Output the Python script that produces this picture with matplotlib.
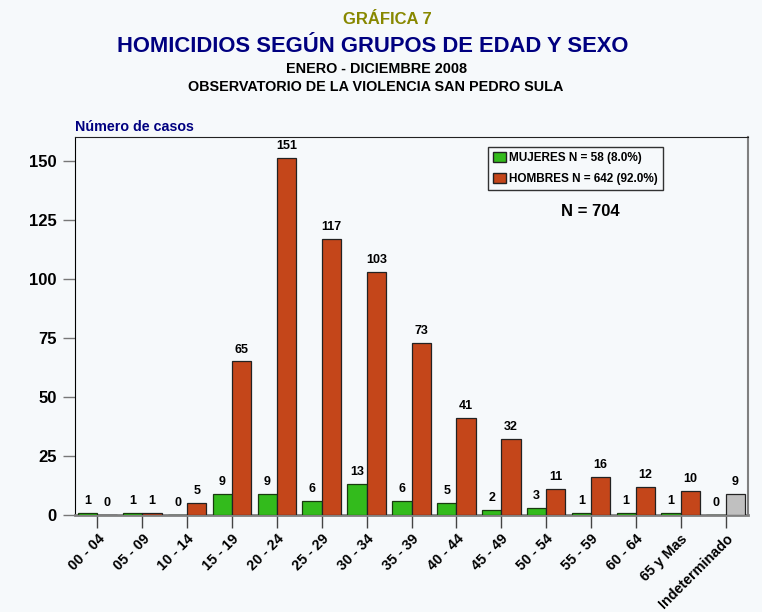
import numpy as np
import matplotlib
matplotlib.use("Agg")
import matplotlib.pyplot as plt
from matplotlib.patches import Patch

plt.rcParams['font.family'] = ['Liberation Sans', 'DejaVu Sans']
plt.rcParams['font.weight'] = 'bold'

# age groups and counts
groups = ['00 - 04', '05 - 09', '10 - 14', '15 - 19', '20 - 24', '25 - 29', '30 - 34',
          '35 - 39', '40 - 44', '45 - 49', '50 - 54', '55 - 59', '60 - 64', '65 y Mas',
          'Indeterminado']
mujeres = [1, 1, 0, 9, 9, 6, 13, 6, 5, 2, 3, 1, 1, 1, 0]
hombres = [0, 1, 5, 65, 151, 117, 103, 73, 41, 32, 11, 16, 12, 10, 9]

GREEN = '#33bb1c'
RED = '#c4461a'
GREY = '#c0c0c0'
BG = '#f6f9fb'

fig = plt.figure(figsize=(7.62, 6.12), dpi=100, facecolor=BG)
ax = fig.add_axes([75 / 762, 1 - 515 / 612, (748 - 75) / 762, (515 - 137) / 612])
ax.set_facecolor(BG)

x = np.arange(len(groups))
w = 0.43
red_colors = [RED] * (len(groups) - 1) + [GREY]
ax.bar(x - w / 2, mujeres, width=w, color=GREEN, edgecolor='#1a3a10', linewidth=0.9, zorder=3)
ax.bar(x + w / 2, hombres, width=w, color=red_colors, edgecolor='#222222', linewidth=0.9, zorder=3)

for xi, v in zip(x, mujeres):
    ax.text(xi - w / 2, v + 2.5, str(v), ha='center', va='bottom', fontsize=9, weight='bold')
for xi, v in zip(x, hombres):
    ax.text(xi + w / 2, v + 2.5, str(v), ha='center', va='bottom', fontsize=9, weight='bold')

ax.set_xlim(-0.5, len(groups) - 0.5)
ax.set_ylim(0, 160)
ax.set_yticks([0, 25, 50, 75, 100, 125, 150])
ax.set_xticks(x)
ax.set_xticklabels(groups, rotation=45, ha='right', rotation_mode='anchor', fontsize=10.3, weight='bold')
ax.tick_params(axis='x', length=9, width=1, color='#444444', pad=3)
ax.tick_params(axis='y', length=9, width=1, color='#777777', labelsize=12, pad=4)
for lab in ax.get_yticklabels():
    lab.set_fontweight('bold')

ax.spines['left'].set_color('black')
ax.spines['top'].set_color('#222222')
ax.spines['right'].set_color('#808080')
ax.spines['right'].set_linewidth(1.5)
ax.spines['bottom'].set_color('#808080')
ax.spines['bottom'].set_linewidth(2)

handles = [Patch(facecolor=GREEN, edgecolor='#222222', label='MUJERES N = 58 (8.0%)'),
           Patch(facecolor=RED, edgecolor='#222222', label='HOMBRES N = 642 (92.0%)')]
leg = ax.legend(handles=handles, loc='upper left', bbox_to_anchor=((488 - 75) / 673, 1 - (147 - 137) / 378),
                fontsize=8.5, frameon=True, fancybox=False, edgecolor='black', facecolor=BG,
                handlelength=1.1, handleheight=0.9, handletextpad=0.2, borderpad=0.45,
                labelspacing=0.75, borderaxespad=0)
leg.get_frame().set_linewidth(1)
for t in leg.get_texts():
    t.set_fontweight('bold')

ax.text((590 - 75) / 673, 1 - (211 - 137) / 378, 'N = 704', transform=ax.transAxes,
        ha='center', va='center', fontsize=12, weight='bold')

fig.text(75 / 762, 1 - 127 / 612, 'Número de casos', color='#000080', fontsize=10.3,
         weight='bold', ha='left', va='center')
fig.text(387 / 762, 1 - 19 / 612, 'GRÁFICA 7', color='#888800', fontsize=12,
         weight='bold', ha='center', va='center')
fig.text(373 / 762, 1 - 47 / 612, 'HOMICIDIOS SEGÚN GRUPOS DE EDAD Y SEXO', color='#000080',
         fontsize=15.8, weight='bold', ha='center', va='center')
fig.text(377 / 762, 1 - 69 / 612, 'ENERO - DICIEMBRE 2008', color='black', fontsize=10.4,
         weight='bold', ha='center', va='center')
fig.text(376 / 762, 1 - 87 / 612, 'OBSERVATORIO DE LA VIOLENCIA SAN PEDRO SULA', color='black',
         fontsize=10.4, weight='bold', ha='center', va='center')

fig.savefig('out.png', dpi=100, facecolor=BG)
